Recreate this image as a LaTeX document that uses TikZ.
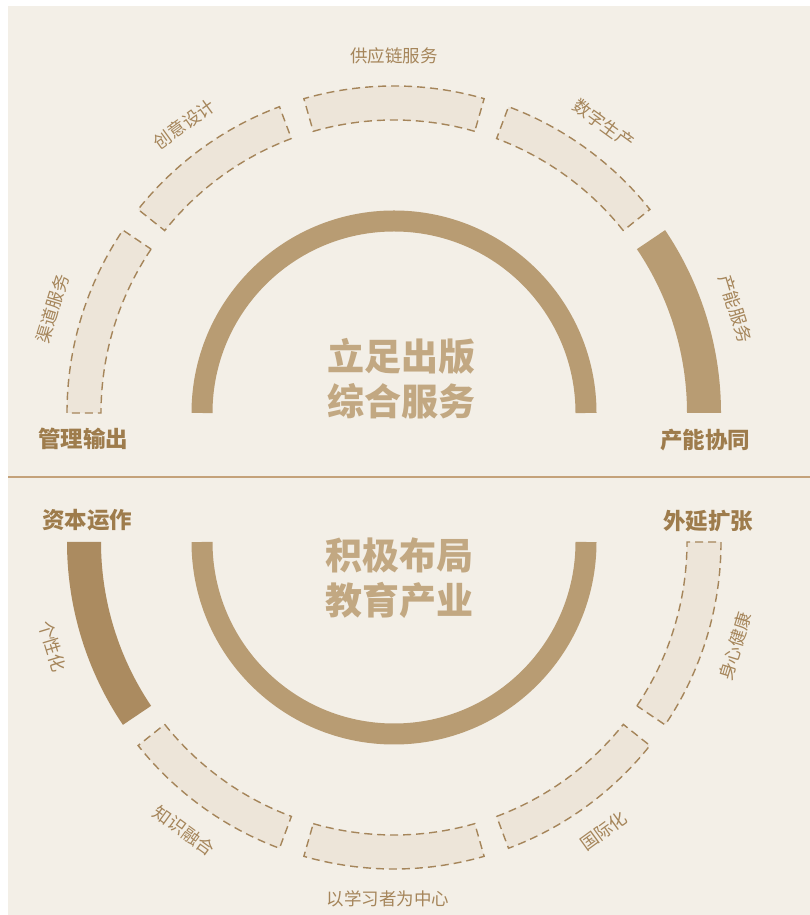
\documentclass[tikz,border=0pt]{standalone}
\usepackage{fontspec}
\setmainfont{Noto Sans CJK SC}

\definecolor{paper}{HTML}{F3EFE7}
\definecolor{boxfill}{HTML}{EDE5D9}
\definecolor{boxline}{HTML}{A5855A}
\definecolor{arcgold}{HTML}{B89C73}
\definecolor{darkgold}{HTML}{AB8B60}
\definecolor{titlegold}{HTML}{C2A882}
\definecolor{labelbrown}{HTML}{9E7C4C}
\definecolor{rulegold}{HTML}{C4A27A}

% one piece of the outer ring: centre, start angle, end angle, style
\newcommand{\ringpart}[4]{%
  \path[#4] ([shift={(#2:293pt)}]#1) arc[start angle=#2,end angle=#3,radius=293pt]
    -- ([shift={(#3:327pt)}]#1) arc[start angle=#3,end angle=#2,radius=327pt] -- cycle;}

\begin{document}
\begin{tikzpicture}[x=1pt,y=1pt,
  solidpart/.style={fill=arcgold},
  darkpart/.style={fill=darkgold},
  dashpart/.style={fill=boxfill,draw=boxline,line width=1.4pt,dash pattern=on 8pt off 5pt},
  innerarc/.style={draw=arcgold,line width=21pt},
  small/.style={text=boxline,inner sep=0pt,font=\fontsize{17.5}{17.5}\selectfont},
  corner/.style={text=labelbrown,inner sep=0pt,font=\fontsize{22.5}{22.5}\selectfont\bfseries},
  title/.style={text=titlegold,inner sep=0pt,align=center,font=\fontsize{37}{45}\selectfont\bfseries}]
\useasboundingbox (0,0) rectangle (810,915);
\fill[paper] (8,0) rectangle (810,909);

\coordinate (top) at (394,502);
\coordinate (bot) at (394,373);

% upper half
\draw[innerarc] ([shift={(0:192pt)}]top) arc[start angle=0,end angle=180,radius=192pt];
\ringpart{top}{0}{34}{solidpart}
\ringpart{top}{38.5}{69.5}{dashpart}
\ringpart{top}{74}{106}{dashpart}
\ringpart{top}{110.5}{141.5}{dashpart}
\ringpart{top}{146}{180}{dashpart}

\node[small,rotate=-73] (cap) at ([shift={(17:357pt)}]top) {产能服务};
\node[small,rotate=-36] (dig) at ([shift={(54:357pt)}]top) {数字生产};
\node[small] (sup) at ([shift={(90:357pt)}]top) {供应链服务};
\node[small,rotate=36] (cre) at ([shift={(126:357pt)}]top) {创意设计};
\node[small,rotate=73] (chn) at ([shift={(163:357pt)}]top) {渠道服务};

\node[title] (pub) at (401,536) {立足出版\\综合服务};
\node[corner] (mgt) at (83,476) {管理输出};
\node[corner] (syn) at (705,475) {产能协同};

\draw[rulegold,line width=1.2pt] (8,438) -- (810,438);

% lower half
\draw[innerarc] ([shift={(180:192pt)}]bot) arc[start angle=180,end angle=360,radius=192pt];
\ringpart{bot}{180}{214}{darkpart}
\ringpart{bot}{218.5}{249.5}{dashpart}
\ringpart{bot}{254}{286}{dashpart}
\ringpart{bot}{290.5}{321.5}{dashpart}
\ringpart{bot}{326}{360}{dashpart}

\node[small,rotate=-73] (ind) at ([shift={(197:357pt)}]bot) {个性化};
\node[small,rotate=-36] (kno) at ([shift={(234:357pt)}]bot) {知识融合};
\node[small] (lrn) at ([shift={(269:357pt)}]bot) {以学习者为中心};
\node[small,rotate=36] (int) at ([shift={(306:357pt)}]bot) {国际化};
\node[small,rotate=73] (hlt) at ([shift={(343:357pt)}]bot) {身心健康};

\node[title] (edu) at (399,337) {积极布局\\教育产业};
\node[corner] (cap2) at (87,395) {资本运作};
\node[corner] (ext) at (708,394) {外延扩张};
\end{tikzpicture}
\end{document}
